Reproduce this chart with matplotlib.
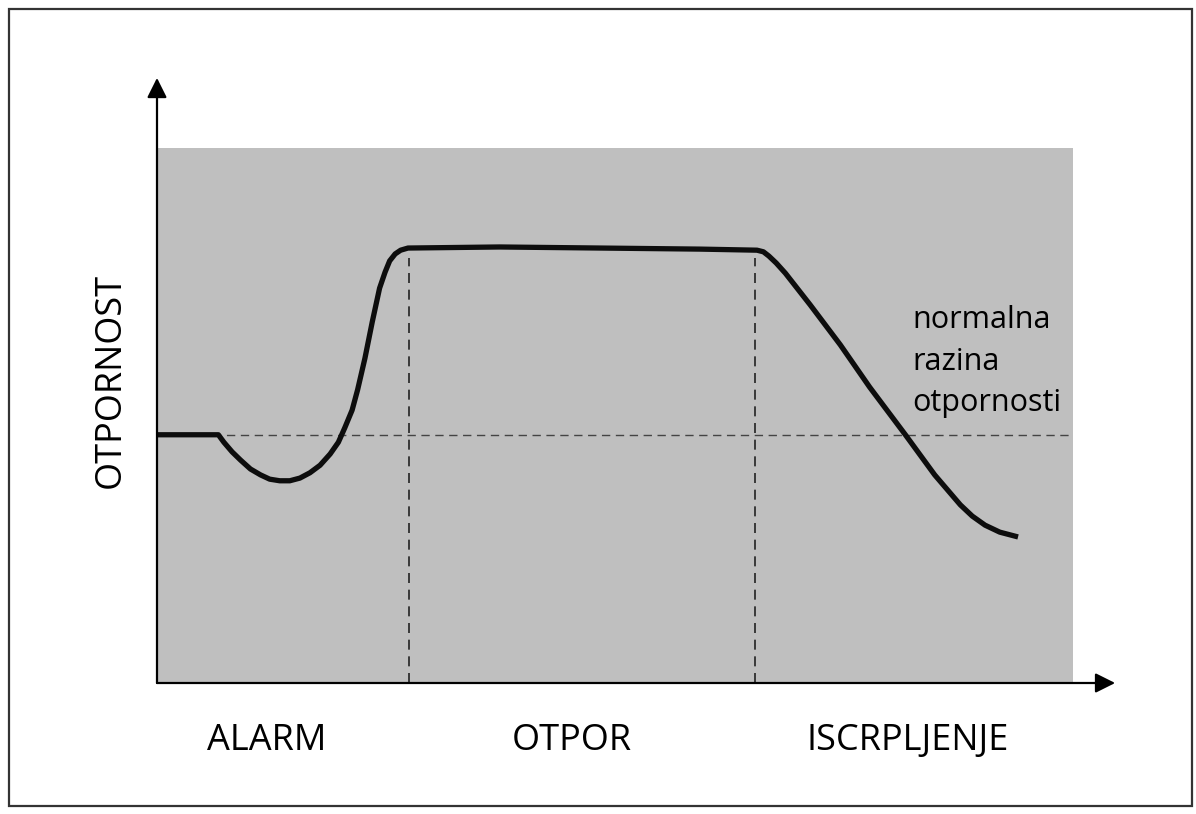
import matplotlib.pyplot as plt
from matplotlib.patches import Rectangle

# curve of resistance over time (chart units: x 0-100 across the shaded panel, y 0-100)
curve_x = [0, 6.7, 7.3, 8.2, 9.1, 10.2, 11.3, 12.3, 13.4, 14.5, 15.6, 16.7, 17.8, 18.9, 19.8,
           20.5, 21.3, 21.9, 22.7, 23.5, 24.3, 24.9, 25.4, 26.0, 26.6, 27.4, 37.4, 48.4, 59.3,
           65.5, 66.2, 66.8, 67.6, 68.6, 71.3, 74.6, 77.8, 81.7, 84.9, 87.7, 89.0, 90.4, 92.0, 94.0]
curve_y = [46.4, 46.4, 45.0, 43.2, 41.7, 40.0, 38.9, 38.1, 37.8, 37.8, 38.3, 39.3, 40.7, 42.8, 45.0,
           47.7, 51.0, 54.8, 60.7, 67.5, 73.8, 76.8, 78.9, 80.2, 80.9, 81.3, 81.5, 81.3, 81.1,
           80.9, 80.6, 79.8, 78.5, 76.6, 70.7, 63.2, 55.3, 46.4, 38.9, 33.3, 31.2, 29.5, 28.2, 27.3]

normal_level = 46.4
phase_bounds = [27.5, 65.3]
phase_top = 79.4
phase_labels = ["ALARM", "OTPOR", "ISCRPLJENJE"]
phase_label_x = [12.0, 45.3, 82.0]

plt.rcParams['font.family'] = ['Open Sans', 'DejaVu Sans']

fig = plt.figure(figsize=(11.96, 8.14), dpi=100)
fig.patch.set_facecolor('white')

# outer frame
fig.add_artist(Rectangle((9 / 1196, 8 / 814), 1183 / 1196, 797 / 814, transform=fig.transFigure,
                         fill=False, edgecolor='#333333', linewidth=1.6))

ax = fig.add_axes([157 / 1196, (814 - 683) / 814, 916 / 1196, 535 / 814])
ax.set_xlim(0, 100)
ax.set_ylim(0, 100)
ax.set_facecolor('#bfbfbf')
for s in ax.spines.values():
    s.set_visible(False)
ax.set_xticks([])
ax.set_yticks([])

# dashed guides
ax.plot([0, 100], [normal_level, normal_level], color='#444444', lw=1.0, ls=(0, (6, 4)))
for xb in phase_bounds:
    ax.plot([xb, xb], [0, phase_top], color='#222222', lw=1.2, ls=(0, (6, 4)))

ax.plot(curve_x, curve_y, color='#0d0d0d', lw=3.8, solid_capstyle='butt', solid_joinstyle='round')

# axes with arrows
ax.annotate('', xy=(0, 113.1), xytext=(0, 0), annotation_clip=False,
            arrowprops=dict(arrowstyle='-|>', color='black', lw=1.6, mutation_scale=30, shrinkA=0, shrinkB=0))
ax.annotate('', xy=(104.6, 0), xytext=(0, 0), annotation_clip=False,
            arrowprops=dict(arrowstyle='-|>', color='black', lw=1.6, mutation_scale=30, shrinkA=0, shrinkB=0))

ax.text(-5.0, 56.6, "OTPORNOST", rotation=90, ha='center', va='center', fontsize=26, clip_on=False)
for xl, lab in zip(phase_label_x, phase_labels):
    ax.text(xl, -10.9, lab, ha='center', va='center', fontsize=26, clip_on=False)

ax.text(82.5, 60.0, "normalna\nrazina\notpornosti", ha='left', va='center', fontsize=22,
        linespacing=1.5)

fig.savefig('out.png', dpi=100)
